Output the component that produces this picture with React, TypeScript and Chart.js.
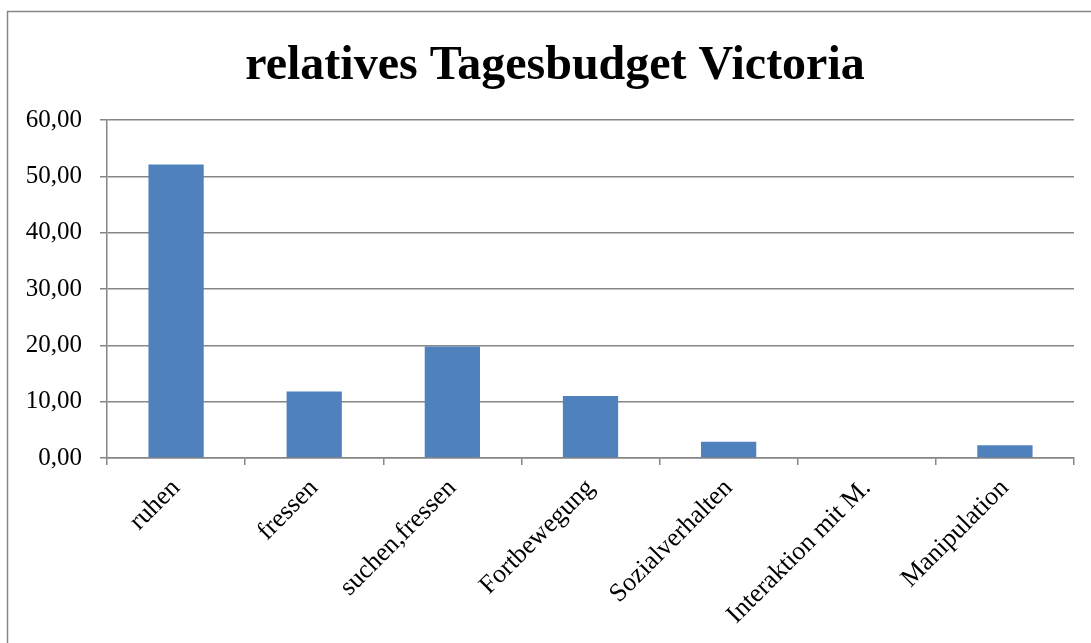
import React, { useEffect, useRef } from "react";
import { Chart, registerables } from "chart.js";

Chart.register(...registerables);

const categories = [
  "ruhen",
  "fressen",
  "suchen,fressen",
  "Fortbewegung",
  "Sozialverhalten",
  "Interaktion mit M.",
  "Manipulation",
];
const values = [52.1, 11.8, 19.8, 11.0, 2.9, 0, 2.25];
const titleText = "relatives Tagesbudget Victoria";

const W = 1091;
const H = 643;

const framePlugin = {
  id: "frameAndTitle",
  beforeDraw(chart: any) {
    const ctx = chart.ctx;
    ctx.save();
    ctx.fillStyle = "#ffffff";
    ctx.fillRect(0, 0, chart.width, chart.height);
    ctx.strokeStyle = "#868686";
    ctx.lineWidth = 1.5;
    ctx.strokeRect(7.5, 11.5, chart.width + 20, chart.height + 20);
    ctx.fillStyle = "#000000";
    ctx.font = "bold 48px 'Liberation Serif', 'Times New Roman', serif";
    ctx.textAlign = "center";
    ctx.textBaseline = "alphabetic";
    ctx.fillText(titleText, 555, 79);
    ctx.restore();
  },
};

export default function App() {
  const ref = useRef<HTMLCanvasElement>(null);
  useEffect(() => {
    if (!ref.current) return;
    const chart = new Chart(ref.current, {
      type: "bar",
      data: {
        labels: categories,
        datasets: [
          {
            data: values,
            backgroundColor: "#4F81BD",
            barPercentage: 0.4,
            categoryPercentage: 1,
          },
        ],
      },
      options: {
        animation: false,
        responsive: false,
        maintainAspectRatio: false,
        layout: { padding: { left: 0, top: 120, right: 17, bottom: 0 } },
        plugins: {
          legend: { display: false },
          title: { display: false },
          tooltip: { enabled: false },
        },
        scales: {
          x: {
            afterFit: (scale: any) => {
              scale.height = H - 458;
            },
            grid: {
              display: true,
              offset: true,
              drawOnChartArea: false,
              drawTicks: true,
              tickLength: 7,
              color: "#868686",
              lineWidth: 1.5,
            },
            border: { display: true, color: "#868686", width: 1.5 },
            ticks: {
              minRotation: 45,
              maxRotation: 45,
              autoSkip: false,
              color: "#000000",
              padding: 8,
              font: { family: "'Liberation Serif', 'Times New Roman', serif", size: 26 },
            },
          },
          y: {
            min: 0,
            max: 60,
            afterFit: (scale: any) => {
              scale.width = 107;
            },
            grid: {
              color: "#868686",
              lineWidth: 1.5,
              drawTicks: true,
              tickLength: 7,
            },
            border: { display: true, color: "#868686", width: 1.5 },
            ticks: {
              stepSize: 10,
              color: "#000000",
              padding: 18,
              font: { family: "'Liberation Serif', 'Times New Roman', serif", size: 25 },
              callback: (v: any) => Number(v).toFixed(2).replace(".", ","),
            },
          },
        },
      },
      plugins: [framePlugin],
    });
    return () => chart.destroy();
  }, []);
  return (
    <div style={{ position: "fixed", left: 0, top: 0, width: W, height: H, background: "#fff" }}>
      <canvas ref={ref} width={W} height={H} style={{ width: W, height: H, display: "block" }} />
    </div>
  );
}
